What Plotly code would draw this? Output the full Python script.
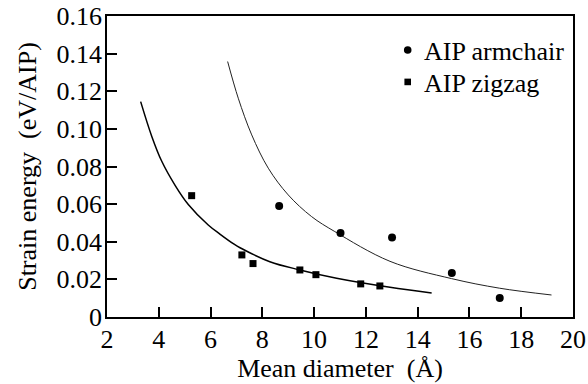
import plotly.graph_objects as go

# Data
armchair_d = [8.65, 11.02, 13.01, 15.32, 17.17]
armchair_e = [0.0590, 0.0447, 0.0422, 0.0234, 0.0101]
zigzag_d = [5.27, 7.21, 7.64, 9.45, 10.07, 11.80, 12.54]
zigzag_e = [0.0645, 0.0330, 0.0284, 0.0250, 0.0225, 0.0176, 0.0165]

# fitted curves
zig_fit_d = [3.30, 3.73, 4.11, 4.63, 5.14, 5.91, 6.36, 6.91, 7.14, 8.29, 9.45, 10.87, 12.93, 14.54]
zig_fit_e = [0.1145, 0.0960, 0.0829, 0.0700, 0.0598, 0.0489, 0.0441, 0.0387, 0.0368,
             0.0294, 0.0250, 0.0206, 0.0158, 0.0128]
arm_fit_d = [6.66, 7.07, 7.59, 8.23, 9.00, 9.90, 10.80, 12.93, 15.31, 17.17, 19.17]
arm_fit_e = [0.1358, 0.1163, 0.0968, 0.0791, 0.0649, 0.0534, 0.0454, 0.0296, 0.0204,
             0.0153, 0.0117]

x_ticks = [2, 4, 6, 8, 10, 12, 14, 16, 18, 20]
y_ticks = [0, 0.02, 0.04, 0.06, 0.08, 0.10, 0.12, 0.14, 0.16]
y_ticktext = ["0", "0.02", "0.04", "0.06", "0.08", "0.10", "0.12", "0.14", "0.16"]
legend_names = ["AIP armchair", "AIP zigzag"]

FONT = "Liberation Serif, Times New Roman, serif"
FS = 26

fig = go.Figure()
fig.add_trace(go.Scatter(x=zig_fit_d, y=zig_fit_e, mode="lines", line_shape="spline",
                         line=dict(color="black", width=1.5), showlegend=False, hoverinfo="skip"))
fig.add_trace(go.Scatter(x=arm_fit_d, y=arm_fit_e, mode="lines", line_shape="spline",
                         line=dict(color="#222222", width=1), showlegend=False, hoverinfo="skip"))
fig.add_trace(go.Scatter(x=armchair_d, y=armchair_e, mode="markers", name=legend_names[0],
                         showlegend=False,
                         marker=dict(symbol="circle", size=8, color="black")))
fig.add_trace(go.Scatter(x=zigzag_d, y=zigzag_e, mode="markers", name=legend_names[1],
                         showlegend=False,
                         marker=dict(symbol="square", size=7, color="black")))

axis_common = dict(showline=True, linecolor="black", linewidth=1.5, mirror=True,
                   ticks="inside", ticklen=10, tickwidth=1.5, tickcolor="black",
                   showgrid=False, zeroline=False, automargin=False,
                   ticklabeloverflow="allow",
                   tickfont=dict(family=FONT, size=FS, color="black"))

fig.update_xaxes(range=[2, 20], tickvals=x_ticks, ticktext=[str(v) for v in x_ticks],
                 ticklabelstandoff=-2,
                 title=dict(text="Mean diameter  (Å)", font=dict(family=FONT, size=FS, color="black"),
                            standoff=4),
                 **axis_common)
fig.update_yaxes(range=[0, 0.16], tickvals=y_ticks, ticktext=y_ticktext,
                 ticklabelstandoff=-2,
                 title=dict(text="Strain energy  (eV/AIP)", font=dict(family=FONT, size=FS, color="black"),
                            standoff=12),
                 **axis_common)

# manual legend (keys + labels) placed in paper coordinates
leg_x_key = 0.6453
leg_x_txt = 0.6753
leg_rows = [0.887, 0.781]
fig.add_shape(type="circle", xref="paper", yref="paper", xsizemode="pixel", ysizemode="pixel",
              xanchor=leg_x_key, yanchor=leg_rows[0], x0=-3.8, x1=3.8, y0=-3.8, y1=3.8,
              fillcolor="black", line=dict(width=0))
fig.add_shape(type="rect", xref="paper", yref="paper", xsizemode="pixel", ysizemode="pixel",
              xanchor=leg_x_key, yanchor=leg_rows[1], x0=-3.3, x1=3.3, y0=-3.3, y1=3.3,
              fillcolor="black", line=dict(width=0))
for name, yy in zip(legend_names, leg_rows):
    fig.add_annotation(text=name, xref="paper", yref="paper", x=leg_x_txt, y=yy - 0.006,
                       xanchor="left", yanchor="middle", showarrow=False,
                       font=dict(family=FONT, size=FS, color="black"))

fig.update_layout(
    width=588, height=384,
    margin=dict(l=107, r=15, t=16, b=67),
    plot_bgcolor="white", paper_bgcolor="white",
    font=dict(family=FONT, size=FS, color="black"),
    showlegend=False,
)

fig.write_html("out.html", config={"displayModeBar": False},
               post_script="document.body.style.margin='0';document.body.style.overflow='hidden';")
